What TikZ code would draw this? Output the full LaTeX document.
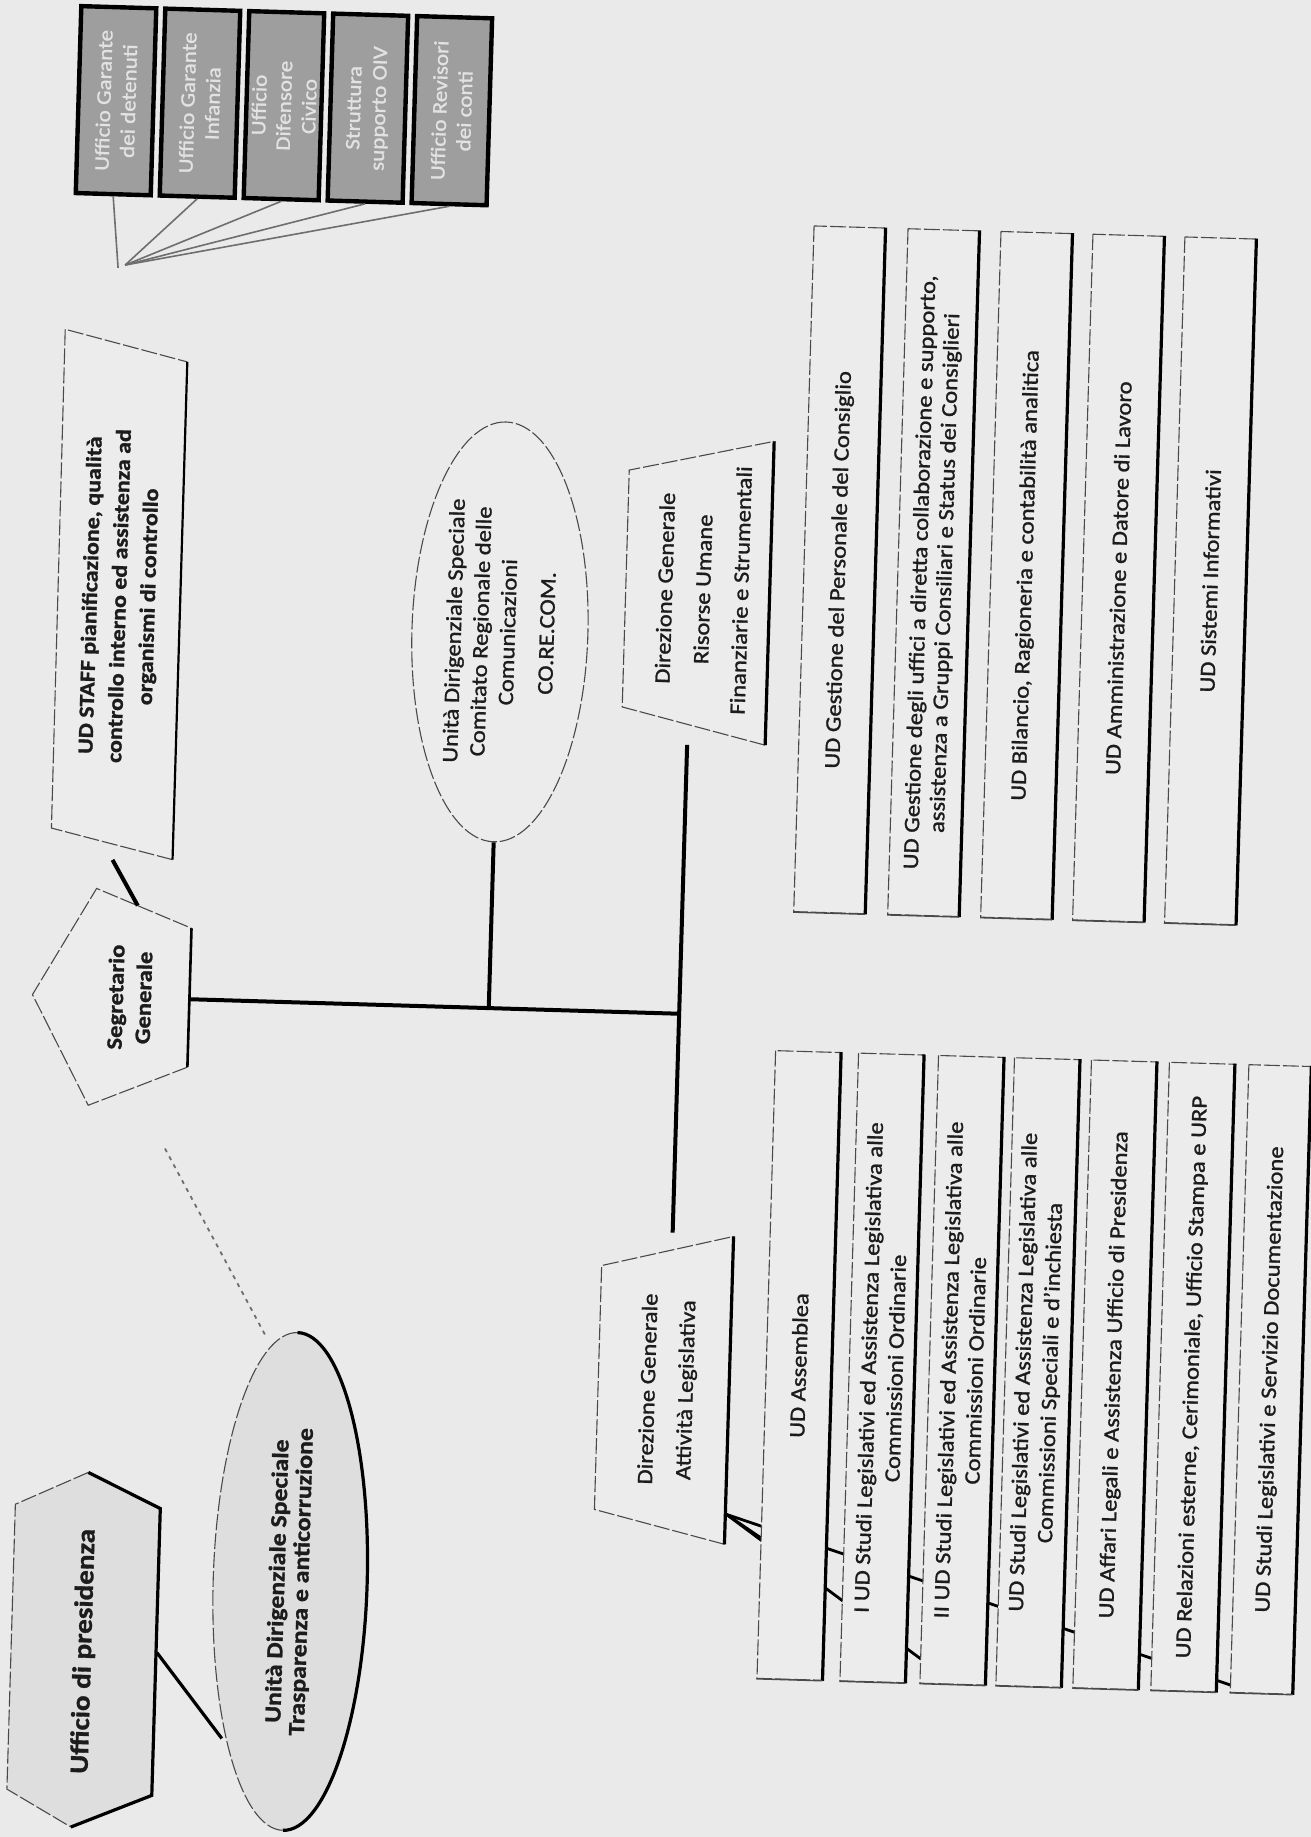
\documentclass[tikz,border=0pt]{standalone}
\usepackage{fontspec}
\setmainfont{Carlito}[FakeStretch=1.12,FakeBold=1.2]
\usetikzlibrary{shapes.geometric}
\definecolor{bgc}{HTML}{EAEAEA}
\definecolor{boxfill}{HTML}{ECECEC}
\definecolor{shadefill}{HTML}{DEDEDE}
\definecolor{darkfill}{HTML}{9E9E9E}
\definecolor{darktext}{HTML}{E2E2E2}
\definecolor{ink}{HTML}{1C1C1C}
\definecolor{edgec}{HTML}{4A4A4A}
\definecolor{linkc}{HTML}{6E6E6E}
\newcommand\udedges[1]{%
  \draw[rightedge] (#1.south east) -- (#1.south west);
  \draw[botedge] (#1.north west) -- (#1.south west);}
\begin{document}
\begin{tikzpicture}[x=0.5pt,y=-0.5pt,
  thinedge/.style={draw=edgec,line width=0.55pt,dash pattern=on 8pt off 1.5pt},
  rightedge/.style={draw=black,line width=1.6pt},
  botedge/.style={draw=edgec,line width=0.7pt},
  conn/.style={draw=black,line width=2pt},
  stub/.style={draw=black,line width=1.4pt},
  thinconn/.style={draw=linkc,line width=0.8pt},
  tlabel/.style={rotate=90,text=ink,align=center,inner sep=0pt},
  udbox/.style={rotate=90,thinedge,fill=boxfill,text=ink,align=center,inner sep=2pt},
  rbox/.style={udbox,minimum width=343pt,minimum height=35.5pt,font=\fontsize{11}{12.5}\selectfont},
  lbox/.style={udbox,minimum width=314pt,minimum height=32.5pt,font=\fontsize{11}{13.5}\selectfont},
  darkbox/.style={rotate=90,draw=black,line width=2.2pt,fill=darkfill,text=darktext,align=center,inner sep=1pt,minimum width=93.5pt,minimum height=37.5pt,font=\fontsize{10.3}{12.5}\selectfont},
]
\fill[bgc] (0,0) rectangle (1311,1837);
\useasboundingbox (0,0) rectangle (1311,1837);
\begin{scope}[rotate around={-1.7:(655,918)},transform shape]
% ---------- top dark boxes
\node[darkbox] (B1) at (92,117) {Ufficio Garante\\dei detenuti};
\node[darkbox] (B2) at (176,117) {Ufficio Garante\\Infanzia};
\node[darkbox] (B3) at (260,117) {Ufficio\\Difensore\\Civico};
\node[darkbox] (B4) at (344,117) {Struttura\\supporto OIV};
\node[darkbox] (B5) at (428,117) {Ufficio Revisori\\dei conti};
\coordinate (conv) at (99,284);
\coordinate (conv2) at (106,281);
\draw[thinconn] (B1.west) -- (conv);
\foreach \b in {B2,B3,B4,B5} \draw[thinconn] (\b.west) -- (conv2);
% ---------- STAFF
\coordinate (stTL) at (48,347);
\coordinate (stTR) at (171,376);
\coordinate (stBR) at (171,874);
\coordinate (stBL) at (49,846);
\fill[boxfill] (stTL) -- (stTR) -- (stBR) -- (stBL) -- cycle;
\draw[thinedge] (stBR) -- (stBL) -- (stTL) -- (stTR);
\draw[draw=black,line width=1.1pt] (stTR) -- (stBR);
\node[tlabel,font=\bfseries\fontsize{10.7}{14.5}\selectfont] (staff) at (111,612) {UD STAFF pianificazione, qualità\\controllo interno ed assistenza ad\\organismi di controllo};
% ---------- Segretario Generale
\coordinate (sgT) at (96,905);
\coordinate (sgTR) at (192,942);
\coordinate (sgBR) at (192,1081);
\coordinate (sgB) at (94,1122);
\coordinate (sgL) at (35,1013);
\fill[boxfill] (sgT) -- (sgTR) -- (sgBR) -- (sgB) -- (sgL) -- cycle;
\draw[thinedge] (sgBR) -- (sgB) -- (sgL) -- (sgT) -- (sgTR);
\draw[draw=black,line width=1.3pt] (sgTR) -- (sgBR);
\node[tlabel,font=\bfseries\fontsize{11}{14}\selectfont] (sg) at (132,1013) {Segretario\\Generale};
\coordinate (staffout) at (111,876);
\coordinate (sgin) at (137.6,921);
\draw[conn] (staffout) -- (sgin);
\coordinate (sgout) at (192,1013);
\coordinate (junc) at (682,1013);
\draw[conn] (sgout) -- (junc);
% ---------- CO.RE.COM
\node[ellipse,rotate=90,thinedge,fill=boxfill,minimum width=210pt,minimum height=88pt,inner sep=0pt,text=ink,align=center,font=\fontsize{11}{13.5}\selectfont] (core) at (491.5,636.6) {Unità Dirigenziale Speciale\\Comitato Regionale delle\\Comunicazioni\\[6pt]CO.RE.COM.};
\coordinate (corejn) at (491.5,1013);
\draw[conn] (core.west) -- (corejn);
% ---------- Direzione Generale Risorse
\coordinate (rsTL) at (616,471);
\coordinate (rsTR) at (760,438);
\coordinate (rsBR) at (760,742);
\coordinate (rsBL) at (616,708);
\fill[boxfill] (rsTL) -- (rsTR) -- (rsBR) -- (rsBL) -- cycle;
\draw[thinedge] (rsBR) -- (rsBL) -- (rsTL) -- (rsTR);
\draw[line width=1.6pt] (rsTR) -- (rsBR);
\node[tlabel,font=\fontsize{11}{19}\selectfont] (ris) at (693,588) {Direzione Generale\\Risorse Umane\\Finanziarie e Strumentali};
% ---------- Direzione Generale Attivita
\coordinate (atTL) at (612,1267);
\coordinate (atTR) at (743,1234);
\coordinate (atBR) at (743,1542);
\coordinate (atBL) at (612,1511);
\fill[boxfill] (atTL) -- (atTR) -- (atBR) -- (atBL) -- cycle;
\draw[thinedge] (atBR) -- (atBL) -- (atTL) -- (atTR);
\draw[line width=1.6pt] (atTR) -- (atBR);
\node[tlabel,font=\fontsize{11}{19}\selectfont] (att) at (682,1389) {Direzione Generale\\Attività Legislativa};
\coordinate (risout) at (682,744);
\coordinate (attin) at (682,1232);
\draw[conn] (risout) -- (attin);
% ---------- connectors behind the L boxes
\coordinate (attout) at (744,1512);
\coordinate (l1in) at (780,1535);
\coordinate (l3in) at (943,1651);
\coordinate (l7in) at (1254,1668);
\draw[stub] (attout) -- (l1in);
\draw[stub] (attout) -- (l3in);
\draw[stub] (attout) -- (l7in);
% ---------- L boxes
\node[lbox] (L1) at (812,1361) {UD Assemblea};
\node[lbox] (L2) at (895,1361) {I UD Studi Legislativi ed Assistenza Legislativa alle\\Commissioni Ordinarie};
\node[lbox] (L3) at (975,1361) {II UD Studi Legislativi ed Assistenza Legislativa alle\\Commissioni Ordinarie};
\node[lbox] (L4) at (1051,1361) {UD Studi Legislativi ed Assistenza Legislativa alle\\Commissioni Speciali e d’inchiesta};
\node[lbox] (L5) at (1128,1361) {UD Affari Legali e Assistenza Ufficio di Presidenza};
\node[lbox] (L6) at (1206,1361) {UD Relazioni esterne, Cerimoniale, Ufficio Stampa e URP};
\node[lbox,minimum height=31pt] (L7) at (1284,1361) {UD Studi Legislativi e Servizio Documentazione};
\foreach \n in {L1,L2,L3,L4,L5,L6,L7} \udedges{\n};
% ---------- R boxes
\node[rbox] (R1) at (829,564.5) {UD Gestione del Personale del Consiglio};
\node[rbox] (R2) at (923,564.5) {UD Gestione degli uffici a diretta collaborazione e supporto,\\assistenza a Gruppi Consiliari e Status dei Consiglieri};
\node[rbox] (R3) at (1016,564.5) {UD Bilancio, Ragioneria e contabilità analitica};
\node[rbox] (R4) at (1108,564.5) {UD Amministrazione e Datore di Lavoro};
\node[rbox] (R5) at (1200,564.5) {UD Sistemi Informativi};
\foreach \n in {R1,R2,R3,R4,R5} \udedges{\n};
% ---------- Ufficio di presidenza
\coordinate (hxTL) at (33,1523);
\coordinate (hxT) at (105,1489);
\coordinate (hxTR) at (178,1523);
\coordinate (hxBR) at (178,1810);
\coordinate (hxB) at (98,1844);
\coordinate (hxBL) at (33,1808);
\fill[shadefill] (hxTL) -- (hxT) -- (hxTR) -- (hxBR) -- (hxB) -- (hxBL) -- cycle;
\draw[thinedge] (hxT) -- (hxTL) -- (hxBL) -- (hxB);
\draw[line width=1.6pt] (hxT) -- (hxTR) -- (hxBR) -- (hxB);
\node[tlabel,font=\bfseries\fontsize{13}{15}\selectfont] (pres) at (106,1668) {Ufficio di presidenza};
% ---------- Trasparenza ellipse
\node[ellipse,rotate=90,thinedge,fill=shadefill,minimum width=249pt,minimum height=77pt,inner sep=0pt,text=ink,align=center,font=\bfseries\fontsize{11.5}{12}\selectfont] (tra) at (310,1592) {Unità Dirigenziale Speciale\\Trasparenza e anticorruzione};
\draw[line width=1.6pt] (310,1841) arc[start angle=90,end angle=-90,x radius=77,y radius=249];
\coordinate (presout) at (178.8,1667);
\coordinate (train) at (246.3,1751);
\draw[conn,line width=1.6pt] (presout) -- (train);
\coordinate (dotfree) at (172,1163);
\coordinate (doten) at (279.5,1349.5);
\draw[draw=linkc,line width=0.9pt,dash pattern=on 2pt off 2.5pt] (dotfree) -- (doten);
\end{scope}
\end{tikzpicture}
\end{document}
